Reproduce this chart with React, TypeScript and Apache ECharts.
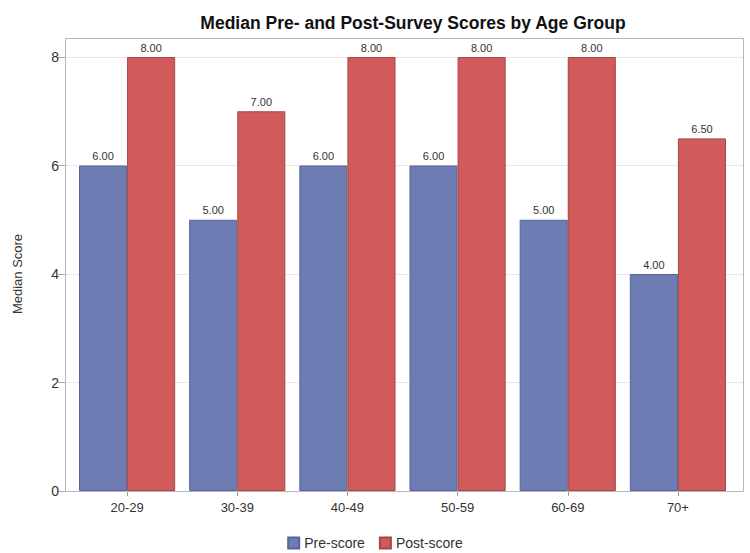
import React, { useEffect, useRef } from "react";
import * as echarts from "echarts";

const categories = ["20-29", "30-39", "40-49", "50-59", "60-69", "70+"];
const preScores = [6, 5, 6, 6, 5, 4];
const postScores = [8, 7, 8, 8, 8, 6.5];
const yTicks = [0, 2, 4, 6, 8];

const FONT = "'Liberation Sans', Arial, sans-serif";

export default function App() {
  const ref = useRef<HTMLDivElement>(null);
  useEffect(() => {
    if (!ref.current) return;
    const chart = echarts.init(ref.current, null, { renderer: "svg" });
    const yMin = yTicks[0];
    const yMax = yTicks[yTicks.length - 1];
    const yInterval = yTicks[1] - yTicks[0];
    chart.setOption({
      animation: false,
      backgroundColor: "#ffffff",
      textStyle: { fontFamily: FONT },
      title: {
        text: "Median Pre- and Post-Survey Scores by Age Group",
        left: 408,
        textAlign: "center",
        top: 9,
        textStyle: { fontFamily: FONT, fontSize: 17.5, fontWeight: "bold", color: "#111" },
      },
      legend: {
        top: 531,
        left: "center",
        itemWidth: 11,
        itemHeight: 11,
        itemGap: 14,
        icon: "rect",
        textStyle: { fontFamily: FONT, fontSize: 14, color: "#333" },
        data: ["Pre-score", "Post-score"],
      },
      graphic: [
        {
          type: "rect",
          shape: { x: 65.5, y: 38.5, width: 678, height: 453 },
          style: { fill: "none", stroke: "#b8b8b8", lineWidth: 1 },
          z: 100,
          silent: true,
        },
      ],
      grid: [
        { left: 65, right: 7, top: 57, bottom: 62 },
        { left: 72, right: 17, top: 57, bottom: 62 },
      ],
      xAxis: [
        { type: "value", gridIndex: 0, show: false, min: 0, max: 1 },
        {
          type: "category",
          gridIndex: 1,
          data: categories,
          axisLine: { show: false },
          axisTick: { show: true, alignWithLabel: true, length: 5, lineStyle: { color: "#999" } },
          axisLabel: { fontFamily: FONT, fontSize: 13, color: "#333", margin: 10 },
        },
      ],
      yAxis: [
        {
          type: "value",
          gridIndex: 0,
          min: yMin,
          max: yMax,
          interval: yInterval,
          name: "Median Score",
          nameLocation: "middle",
          nameGap: 41,
          nameTextStyle: { fontFamily: FONT, fontSize: 13, color: "#333" },
          axisLine: { show: false },
          axisTick: { show: true, length: 7, lineStyle: { color: "#aaa" } },
          axisLabel: { fontFamily: FONT, fontSize: 14, color: "#333", margin: 6 },
          splitLine: { show: true, lineStyle: { color: "#e8e8e8", width: 1 } },
        },
        {
          type: "value",
          gridIndex: 1,
          min: yMin,
          max: yMax,
          interval: yInterval,
          show: false,
          splitLine: { show: false },
        },
      ],
      series: [
        {
          name: "Pre-score",
          type: "bar",
          xAxisIndex: 1,
          yAxisIndex: 1,
          data: preScores,
          barGap: "0%",
          barCategoryGap: "12.7%",
          itemStyle: { color: "#6d7db4", borderColor: "#55649a", borderWidth: 1 },
          label: {
            show: true,
            position: "top",
            distance: 4,
            formatter: (p: any) => Number(p.value).toFixed(2),
            fontFamily: FONT,
            fontSize: 11,
            color: "#333",
          },
        },
        {
          name: "Post-score",
          type: "bar",
          xAxisIndex: 1,
          yAxisIndex: 1,
          data: postScores,
          barGap: "0%",
          barCategoryGap: "12.7%",
          itemStyle: { color: "#d15a5a", borderColor: "#a84646", borderWidth: 1 },
          label: {
            show: true,
            position: "top",
            distance: 4,
            formatter: (p: any) => Number(p.value).toFixed(2),
            fontFamily: FONT,
            fontSize: 11,
            color: "#333",
          },
        },
      ],
    });
    return () => chart.dispose();
  }, []);
  return <div ref={ref} style={{ width: 750, height: 553, position: "absolute", left: 0, top: 0 }} />;
}
